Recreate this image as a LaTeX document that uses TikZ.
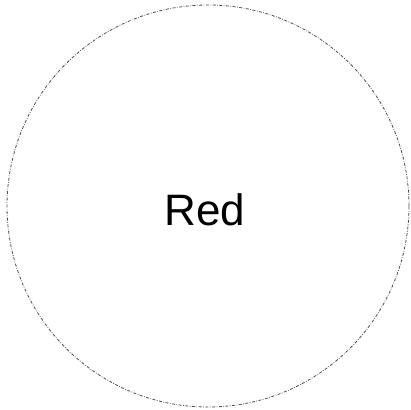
\documentclass[tikz,border=0pt]{standalone}
\usepackage{fontspec}
\setmainfont{Liberation Sans}
\begin{document}
\begin{tikzpicture}[x=1pt,y=1pt,
  ring/.style={draw=black!70, line width=0.8pt, dash pattern=on 3pt off 1.5pt on 0.7pt off 1.5pt}]
\useasboundingbox (0,0) rectangle (410,410);
\node[circle, ring, minimum size=402pt, inner sep=0pt] (red) at (208,204) {};
\node[font=\fontsize{44}{50}\selectfont, inner sep=0pt] (lbl) at (205,200) {Red};
\end{tikzpicture}
\end{document}
